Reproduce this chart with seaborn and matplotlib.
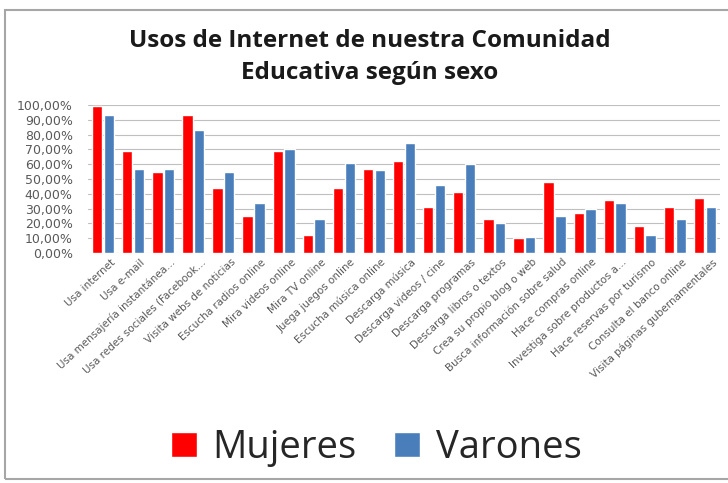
import numpy as np
import pandas as pd
import seaborn as sns
import matplotlib.pyplot as plt
from matplotlib.patches import Rectangle
from matplotlib.ticker import FuncFormatter, MultipleLocator
from matplotlib.transforms import ScaledTranslation

usos = [
    "Usa internet", "Usa e-mail", "Usa mensajería instantánea...",
    "Usa redes sociales (Facebook...", "Visita webs de noticias",
    "Escucha radios online", "Mira videos online", "Mira TV online",
    "Juega juegos online", "Escucha música online", "Descarga música",
    "Descarga videos / cine", "Descarga programas", "Descarga libros o textos",
    "Crea su propio blog o web", "Busca información sobre salud",
    "Hace compras online", "Investiga sobre productos a...",
    "Hace reservas por turismo", "Consulta el banco online",
    "Visita páginas gubernamentales",
]
mujeres = [99, 69, 55, 93, 44, 25, 69, 12, 44, 57, 62, 31, 41, 23, 10, 48,
           27, 36, 18, 31, 37]
varones = [93, 57, 57, 83, 55, 34, 70, 23, 61, 56, 74, 46, 60, 20, 11, 25,
           30, 34, 12, 23, 31]
series = ["Mujeres", "Varones"]
colores = ["#FF0000", "#4A7EBB"]

df = pd.DataFrame({
    "uso": usos * 2,
    "sexo": [series[0]] * len(usos) + [series[1]] * len(usos),
    "valor": mujeres + varones,
})

sns.set_style("white")
plt.rcParams['font.family'] = ['Open Sans', 'DejaVu Sans']

fig = plt.figure(figsize=(7.28, 4.83), dpi=100)
# marco del grafico
fig.patches.append(Rectangle((5 / 728, 4 / 483), 1.0, 469 / 483, transform=fig.transFigure,
                             fill=False, edgecolor="#A6A6A6", linewidth=1.5))

ax = fig.add_axes([88 / 728, 1 - 253 / 483, 632 / 728, 148 / 483])
sns.barplot(data=df, x="uso", y="valor", hue="sexo", palette=colores,
            width=0.78, gap=0.12, ax=ax, legend=False, saturation=1, zorder=3)

ax.set_ylim(0, 100)
ax.set_xlim(-0.5, len(usos) - 0.5)
ax.yaxis.set_major_locator(MultipleLocator(10))
ax.yaxis.set_major_formatter(FuncFormatter(lambda v, p: f"{v:.2f}%".replace(".", ",")))
ax.grid(axis="y", color="#BFBFBF", linewidth=0.8, zorder=0)
for s in ax.spines.values():
    s.set_visible(False)
ax.set_xlabel("")
ax.set_ylabel("")
ax.tick_params(axis="y", labelsize=9, labelcolor="#595959", length=0, pad=11)
ax.tick_params(axis="x", labelsize=7.5, labelcolor="#595959", length=0, pad=3)
for lab in ax.get_yticklabels():
    lab.set_family("DejaVu Sans")
desplaza = ScaledTranslation(7 / 100, 0, fig.dpi_scale_trans)
for lab in ax.get_xticklabels():
    lab.set_family("DejaVu Sans")
    lab.set_rotation(43)
    lab.set_ha("right")
    lab.set_va("top")
    lab.set_rotation_mode("anchor")
    lab.set_transform(lab.get_transform() + desplaza)

fig.text(370 / 728, 1 - 41 / 483, "Usos de Internet de nuestra Comunidad", ha="center",
         va="center", fontsize=17.5, fontweight="bold", color="#1A1A1A")
fig.text(370 / 728, 1 - 73 / 483, "Educativa según sexo", ha="center",
         va="center", fontsize=17.5, fontweight="bold", color="#1A1A1A")

handles = [Rectangle((0, 0), 1, 1, facecolor=c) for c in colores]
fig.legend(handles, series, loc="center", bbox_to_anchor=(376 / 728, 1 - 448 / 483),
           ncol=2, frameon=False, fontsize=27.5, handlelength=0.68, handleheight=0.6,
           handletextpad=0.4, columnspacing=1.0, borderpad=0)

fig.savefig("out.png", dpi=100)
